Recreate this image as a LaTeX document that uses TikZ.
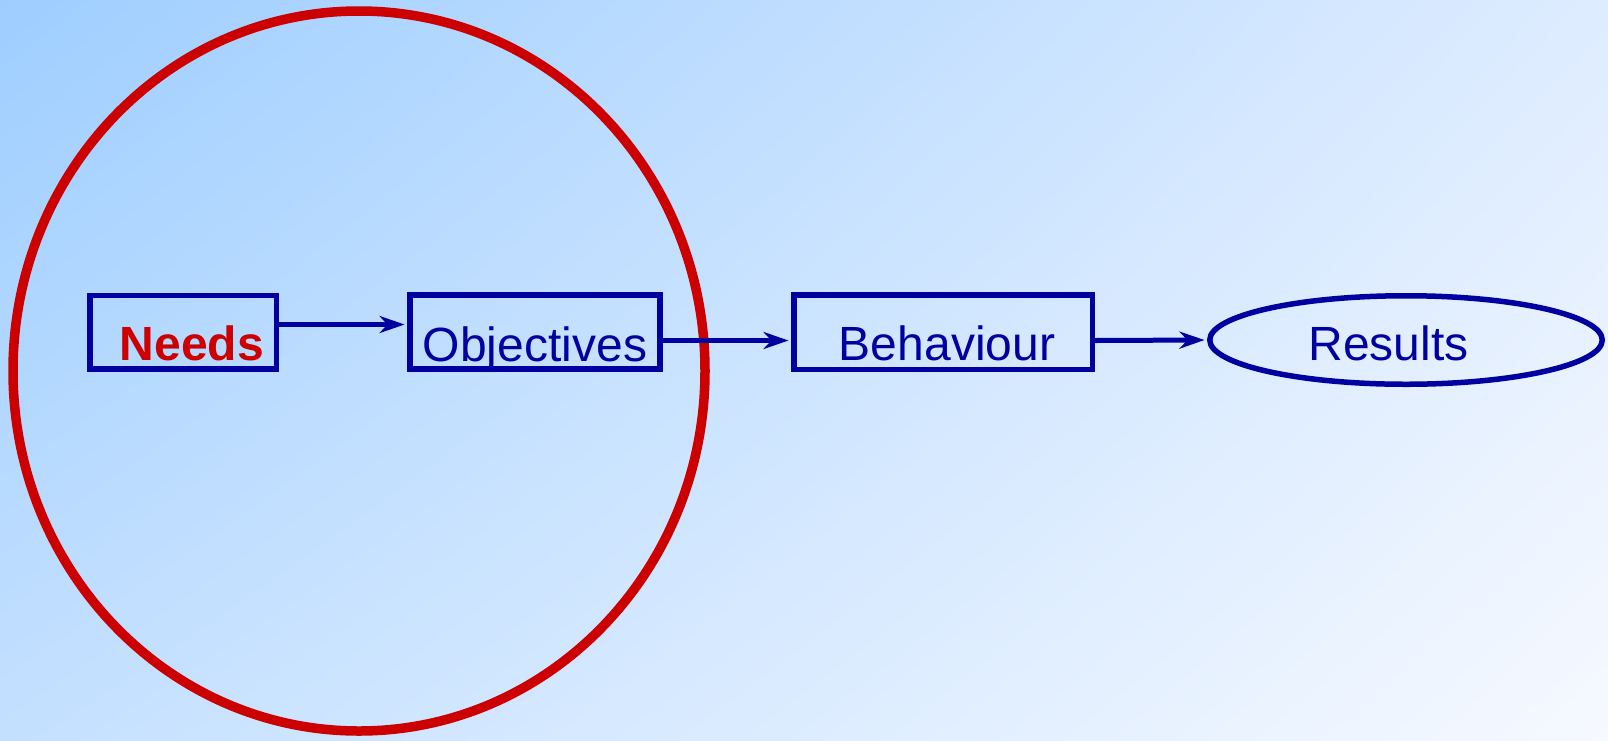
\documentclass[tikz,border=0pt]{standalone}
\usepackage{fontspec}
\setmainfont{Liberation Sans}
\usetikzlibrary{arrows.meta,shapes.geometric,shadings}
\definecolor{navy}{RGB}{0,0,160}
\definecolor{redc}{RGB}{204,0,0}
\definecolor{bgTL}{RGB}{158,206,255}
\definecolor{bgTR}{RGB}{222,236,255}
\definecolor{bgBL}{RGB}{196,224,255}
\definecolor{bgBR}{RGB}{246,249,255}
\tikzset{
  boxstyle/.style={draw=navy, line width=5.5pt, rectangle, inner sep=0pt},
  ovalstyle/.style={draw=navy, line width=5.5pt, ellipse, inner sep=0pt},
  lbl/.style={font=\fontsize{48}{48}\selectfont, text=navy, anchor=base, inner sep=0pt},
  conn/.style={draw=navy, line width=5pt, shorten >=2.5pt, -{Stealth[length=25pt, width=17pt, inset=8pt]}}
}
\begin{document}
\begin{tikzpicture}[x=1pt,y=-1pt]
\shade[upper left=bgTL, upper right=bgTR, lower left=bgBL, lower right=bgBR] (0,0) rectangle (1608,740);
\useasboundingbox (0,0) rectangle (1608,740);
% red circle
\draw[redc, line width=9.5pt] (359,371) ellipse [x radius=346pt, y radius=360pt];
% boxes
\node[boxstyle, minimum width=186.5pt, minimum height=73.5pt] (needs) at (183,332.2) {};
\node[boxstyle, minimum width=250pt, minimum height=74pt] (obj) at (534.8,332) {};
\node[boxstyle, minimum width=298.5pt, minimum height=74.5pt] (beh) at (943,332) {};
\node[ovalstyle, minimum width=392.5pt, minimum height=88.5pt] (res) at (1406,340) {};
% texts
\node[lbl, text=redc, font=\fontsize{48}{48}\selectfont\bfseries] (needsT) at (191.7,360) {Needs};
\node[lbl] (objT) at (535,361) {Objectives};
\node[lbl] (behT) at (947,360) {Behaviour};
\node[lbl] (resT) at (1388.5,360) {Results};
% connectors
\draw[conn] (needs.east |- 0,324.5) -- (obj.west |- 0,324.5);
\draw[conn] (obj.east |- 0,340.5) -- (beh.west |- 0,340.5);
\draw[conn] (beh.east |- 0,340.5) -- (res.west);
\end{tikzpicture}
\end{document}
